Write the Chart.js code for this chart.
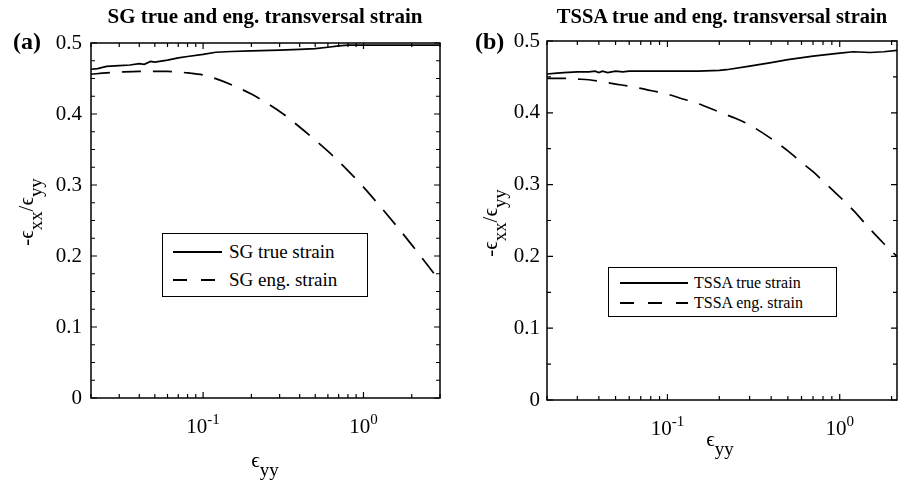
<!DOCTYPE html>
<html>
<head>
<meta charset="utf-8">
<title>SG / TSSA transversal strain</title>
<script src="https://cdn.jsdelivr.net/npm/chart.js@4.4.1/dist/chart.umd.min.js"></script>
<style>
  html, body { margin: 0; padding: 0; background: #fff; }
  body { width: 899px; height: 484px; position: relative; overflow: hidden; font-family: "Liberation Serif", "Times New Roman", "DejaVu Serif", serif; color: #000; }
  .panel { position: absolute; top: 0; height: 484px; }
  .panel canvas { position: absolute; left: 0; top: 0; }
  .txt { position: absolute; white-space: nowrap; line-height: 1; }
  .title { font-weight: bold; font-size: 21px; transform: translateX(-50%); }
  .letter { font-weight: bold; font-size: 24px; }
  .ylab { font-size: 21px; transform: translate(-50%, -50%) rotate(-90deg); }
  .xlab { font-size: 21px; transform: translateX(-50%); }
  .sub { font-size: 0.9em; position: relative; top: 0.45em; }
  .legend { position: absolute; border: 1.5px solid #000; background: #fff; box-sizing: border-box; }
  .legend-item { position: absolute; left: 0; right: 0; height: 20px; }
  .legend-item span { position: absolute; top: 0; line-height: 20px; white-space: nowrap; }
  .legend-line { position: absolute; top: 9px; height: 2px; background: #000; }
  .legend-dash { position: absolute; top: 9px; height: 2px; background: repeating-linear-gradient(90deg, #000 0 14px, transparent 14px 28px); }
</style>
</head>
<body>

<div class="panel" id="panelA" style="left:0; width:450px;">
  <canvas id="chartA" width="450" height="484"></canvas>
  <div class="txt title" style="left:265px; top:6px;">SG true and eng. transversal strain</div>
  <div class="txt letter" style="left:13px; top:29px;">(a)</div>
  <div class="txt ylab" style="left:26px; top:212px;">-ϵ<span class="sub">xx</span>/ϵ<span class="sub">yy</span></div>
  <div class="txt xlab" style="left:265px; top:450px;">ϵ<span class="sub">yy</span></div>
</div>

<div class="panel" id="panelB" style="left:450px; width:449px;">
  <canvas id="chartB" width="449" height="484"></canvas>
  <div class="txt title" style="left:272px; top:6px; font-size:20.5px;">TSSA true and eng. transversal strain</div>
  <div class="txt letter" style="left:25px; top:29px;">(b)</div>
  <div class="txt ylab" style="left:40px; top:223px;">-ϵ<span class="sub">xx</span>/ϵ<span class="sub">yy</span></div>
  <div class="txt xlab" style="left:270px; top:429px;">ϵ<span class="sub">yy</span></div>
</div>

<script>
// values (x = eps_yy, y = -eps_xx/eps_yy)
const sgTrueStrain = [0.02, 0.022, 0.025, 0.03, 0.035, 0.04, 0.043, 0.047, 0.05, 0.06, 0.07, 0.08, 0.1, 0.12, 0.15, 0.2, 0.3, 0.4, 0.5, 0.6, 0.7, 0.8, 1.0, 1.5, 2, 3];
const sgTrueRatio = [0.463, 0.464, 0.467, 0.468, 0.469, 0.471, 0.470, 0.474, 0.473, 0.476, 0.479, 0.481, 0.484, 0.487, 0.488, 0.489, 0.490, 0.491, 0.492, 0.494, 0.496, 0.497, 0.497, 0.497, 0.497, 0.497];
const sgEngStrain = [0.02, 0.025, 0.03, 0.04, 0.05, 0.06, 0.07, 0.08, 0.1, 0.126, 0.158, 0.2, 0.251, 0.316, 0.398, 0.501, 0.631, 0.794, 1.0, 1.259, 1.585, 1.995, 2.512, 3];
const sgEngRatio = [0.456, 0.458, 0.459, 0.460, 0.460, 0.460, 0.459, 0.458, 0.455, 0.448, 0.439, 0.428, 0.415, 0.400, 0.382, 0.363, 0.343, 0.321, 0.297, 0.271, 0.244, 0.216, 0.187, 0.164];

const tssaTrueStrain = [0.02, 0.022, 0.025, 0.03, 0.035, 0.038, 0.04, 0.042, 0.045, 0.05, 0.055, 0.06, 0.07, 0.1, 0.15, 0.2, 0.22, 0.3, 0.4, 0.5, 0.7, 1.0, 1.2, 1.5, 1.8, 2.15];
const tssaTrueRatio = [0.454, 0.455, 0.456, 0.457, 0.457, 0.458, 0.456, 0.458, 0.456, 0.458, 0.457, 0.458, 0.458, 0.458, 0.458, 0.459, 0.460, 0.465, 0.470, 0.474, 0.479, 0.483, 0.485, 0.484, 0.485, 0.487];
const tssaEngStrain = [0.02, 0.025, 0.03, 0.035, 0.04, 0.05, 0.06, 0.07, 0.08, 0.1, 0.12, 0.15, 0.2, 0.25, 0.3, 0.4, 0.5, 0.6, 0.7, 0.8, 1.0, 1.2, 1.5, 1.8, 2.15];
const tssaEngRatio = [0.448, 0.448, 0.447, 0.446, 0.444, 0.440, 0.437, 0.434, 0.431, 0.426, 0.420, 0.413, 0.401, 0.392, 0.383, 0.364, 0.347, 0.331, 0.318, 0.305, 0.283, 0.264, 0.238, 0.218, 0.200];

const sgLabels = ['SG true strain', 'SG eng. strain'];
const tssaLabels = ['TSSA true strain', 'TSSA eng. strain'];

// axis ticks
const yTickLabels = ['0', '0.1', '0.2', '0.3', '0.4', '0.5'];
const xTickValues = [0.02, 0.03, 0.04, 0.05, 0.06, 0.07, 0.08, 0.09, 0.1, 0.2, 0.3, 0.4, 0.5, 0.6, 0.7, 0.8, 0.9, 1, 2, 3];
const xLabelValues = [0.1, 1];
const xLabelPowers = ['-1', '0'];

const FONT = '"Liberation Serif", "Times New Roman", "DejaVu Serif", serif';

function toPoints(xs, ys) {
    return xs.map((x, i) => ({ x: x, y: ys[i] }));
}

// box around the plot + inward ticks on all four sides + 10^n labels
const frameTicks = {
    id: 'frameTicks',
    afterDraw(chart, args, opts) {
        const { ctx, chartArea: a } = chart;
        const xs = chart.scales.x;
        const ys = chart.scales.y;
        ctx.save();
        ctx.strokeStyle = '#000';
        ctx.lineWidth = 1.5;
        ctx.strokeRect(a.left, a.top, a.right - a.left, a.bottom - a.top);

        ctx.lineWidth = 1.2;
        ctx.beginPath();
        xs.ticks.forEach(t => {
            const px = xs.getPixelForValue(t.value);
            const len = t.major ? 6 : 4;
            ctx.moveTo(px, a.bottom);
            ctx.lineTo(px, a.bottom - len);
            ctx.moveTo(px, a.top);
            ctx.lineTo(px, a.top + len);
        });
        ys.ticks.forEach(t => {
            const py = ys.getPixelForValue(t.value);
            const len = t.label ? 6 : 4;
            ctx.moveTo(a.left, py);
            ctx.lineTo(a.left + len, py);
            ctx.moveTo(a.right, py);
            ctx.lineTo(a.right - len, py);
        });
        ctx.stroke();

        ctx.fillStyle = '#000';
        ctx.textBaseline = 'alphabetic';
        ctx.textAlign = 'left';
        xLabelValues.forEach((v, i) => {
            const px = xs.getPixelForValue(v);
            const y = a.bottom + opts.labelOffset;
            ctx.font = '21px ' + FONT;
            const w1 = ctx.measureText('10').width;
            ctx.font = '15px ' + FONT;
            const w2 = ctx.measureText(xLabelPowers[i]).width;
            const left = px - (w1 + w2) / 2;
            ctx.font = '21px ' + FONT;
            ctx.fillText('10', left, y);
            ctx.font = '15px ' + FONT;
            ctx.fillText(xLabelPowers[i], left + w1, y - 9);
        });
        ctx.restore();
    }
};

function makeChart(canvasId, p) {
    return new Chart(document.getElementById(canvasId), {
        type: 'line',
        data: {
            datasets: [
                {
                    label: p.labels[0],
                    data: toPoints(p.trueX, p.trueY),
                    borderColor: '#000',
                    borderWidth: 1.7,
                    pointRadius: 0,
                    fill: false,
                    tension: 0
                },
                {
                    label: p.labels[1],
                    data: toPoints(p.engX, p.engY),
                    borderColor: '#000',
                    borderWidth: 1.7,
                    borderDash: [19, 12],
                    pointRadius: 0,
                    fill: false,
                    cubicInterpolationMode: 'monotone'
                }
            ]
        },
        options: {
            responsive: false,
            animation: false,
            devicePixelRatio: 1,
            layout: { padding: { top: p.padTop, right: p.padRight, left: 0, bottom: 0 } },
            plugins: {
                legend: { display: false },
                tooltip: { enabled: false },
                frameTicks: { labelOffset: p.labelOffset }
            },
            scales: {
                x: {
                    type: 'logarithmic',
                    min: p.xMin,
                    max: p.xMax,
                    grid: { display: false, drawTicks: false },
                    border: { display: false },
                    ticks: { display: false },
                    afterBuildTicks: scale => {
                        scale.ticks = xTickValues
                            .filter(v => v >= p.xMin && v <= p.xMax)
                            .map(v => ({ value: v, major: xLabelValues.includes(v) }));
                    },
                    afterFit: scale => { scale.height = p.xAxisHeight; }
                },
                y: {
                    min: 0,
                    max: 0.5,
                    grid: { display: false, drawTicks: false },
                    border: { display: false },
                    ticks: {
                        stepSize: p.yStep,
                        padding: p.yPad,
                        color: '#000',
                        autoSkip: false,
                        font: { family: FONT, size: 21 },
                        callback: v => {
                            const k = Math.round(v * 10);
                            return Math.abs(v * 10 - k) < 1e-6 ? yTickLabels[k] : '';
                        }
                    },
                    afterFit: scale => { scale.width = p.yAxisWidth; }
                }
            }
        },
        plugins: [frameTicks]
    });
}

// legend box drawn in html, built from the chart datasets
function createLegend(panelId, chart, g) {
    const box = document.createElement('div');
    box.className = 'legend';
    box.style.left = g.left + 'px';
    box.style.top = g.top + 'px';
    box.style.width = g.width + 'px';
    box.style.height = g.height + 'px';
    box.style.fontSize = g.fontSize + 'px';

    chart.data.datasets.forEach((ds, i) => {
        const item = document.createElement('div');
        item.className = 'legend-item';
        item.style.top = (g.rows[i] - 10) + 'px';

        const sample = document.createElement('div');
        sample.className = ds.borderDash ? 'legend-dash' : 'legend-line';
        sample.style.left = g.sampleLeft + 'px';
        sample.style.width = g.sampleWidth + 'px';

        const text = document.createElement('span');
        text.style.left = g.textLeft + 'px';
        text.textContent = ds.label;

        item.appendChild(sample);
        item.appendChild(text);
        box.appendChild(item);
    });
    document.getElementById(panelId).appendChild(box);
}

const chartA = makeChart('chartA', {
    labels: sgLabels,
    trueX: sgTrueStrain, trueY: sgTrueRatio,
    engX: sgEngStrain, engY: sgEngRatio,
    xMin: 0.02, xMax: 3,
    padTop: 43, padRight: 10, yAxisWidth: 91, xAxisHeight: 86,
    yStep: 0.025, yPad: 9, labelOffset: 35
});

const chartB = makeChart('chartB', {
    labels: tssaLabels,
    trueX: tssaTrueStrain, trueY: tssaTrueRatio,
    engX: tssaEngStrain, engY: tssaEngRatio,
    xMin: 0.02, xMax: 2.15,
    padTop: 41, padRight: 2, yAxisWidth: 97, xAxisHeight: 84,
    yStep: 0.05, yPad: 7, labelOffset: 35
});

createLegend('panelA', chartA, {
    left: 162, top: 233, width: 206, height: 64, fontSize: 19,
    rows: [18, 46], sampleLeft: 10, sampleWidth: 49, textLeft: 66
});
createLegend('panelB', chartB, {
    left: 158, top: 267, width: 229, height: 50, fontSize: 16,
    rows: [15, 35], sampleLeft: 11, sampleWidth: 68, textLeft: 85
});
</script>
</body>
</html>
